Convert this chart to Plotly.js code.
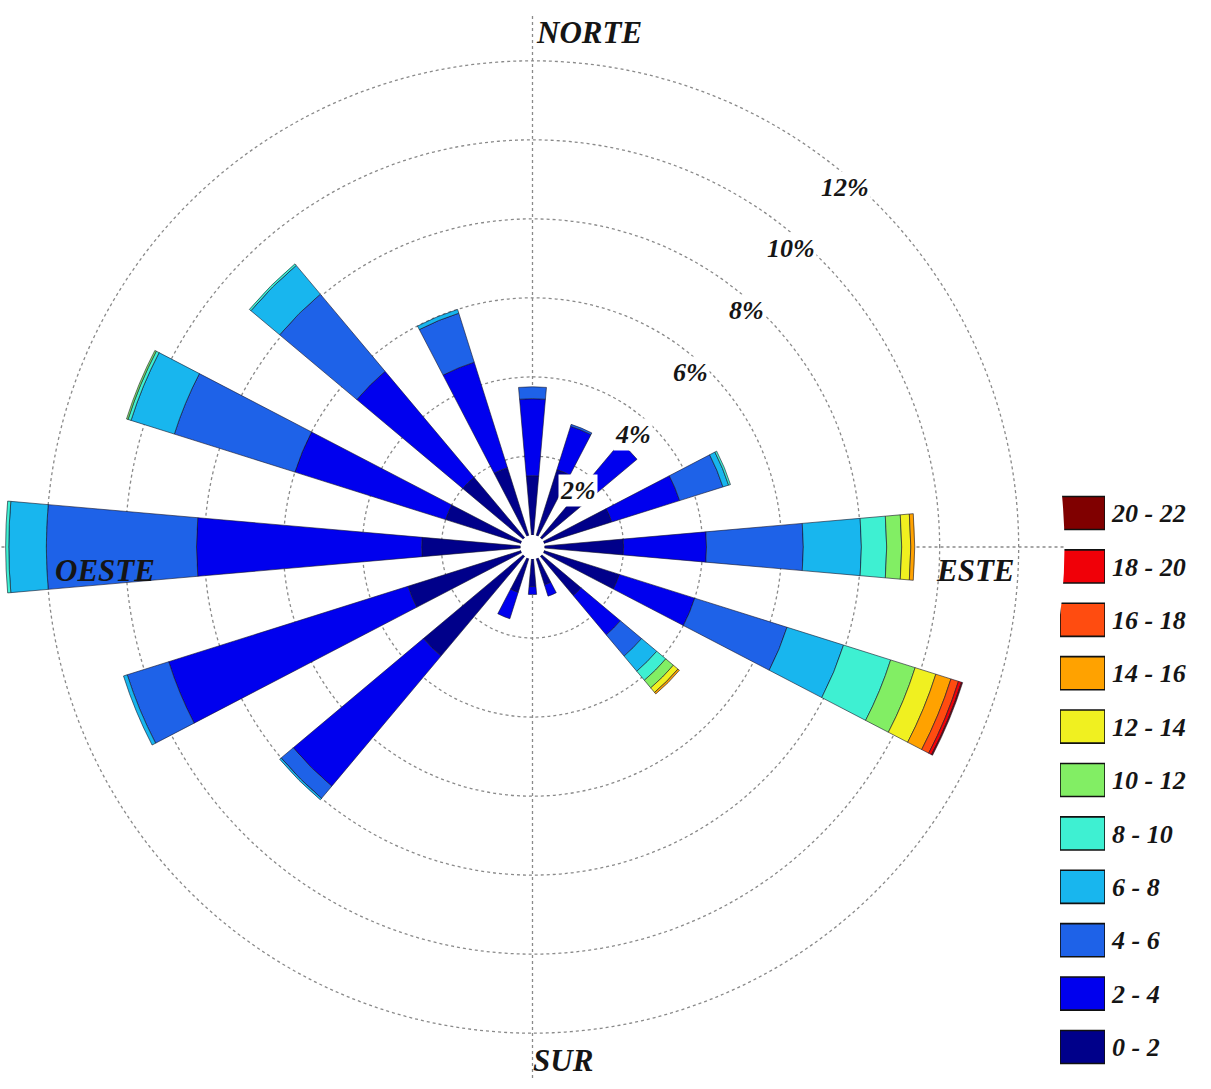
<!DOCTYPE html>
<html>
<head>
<meta charset="utf-8">
<script src="https://cdn.plot.ly/plotly-3.0.1.min.js"></script>
<style>html,body{margin:0;padding:0;background:#fff}#chart{width:1211px;height:1089px}</style>
</head>
<body>
<div id="chart"></div>
<script>
// Wind directions (compass sectors) and their bearings in degrees
const directions   = ['N','NNE','NE','ENE','E','ESE','SE','SSE','S','SSW','SW','WSW','W','WNW','NW','NNW'];
const directionDeg = [0,22.5,45,67.5,90,112.5,135,157.5,180,202.5,225,247.5,270,292.5,315,337.5];

// Speed classes (legend labels) and their colours
const speedClasses = ['0 - 2','2 - 4','4 - 6','6 - 8','8 - 10','10 - 12','12 - 14','14 - 16','16 - 18','18 - 20','20 - 22'];
const classColors  = ['#00008a','#0000ee','#1e62e8','#18b6ee','#3ef0d2','#82ee64','#f0f020','#ffa200','#ff4c10','#f00008','#800000'];

// Frequency (%) of each speed class per direction, order as `directions`
const freq_0_2   = [1.5,1.75,1.7,1.8,2.0,2.0,1.3,0.7,0.7,0.9,3.3,3.0,2.5,2.0,2.0,1.8];
const freq_2_4   = [1.95,1.15,1.45,1.8,2.1,2.0,1.3,0.3,0.2,0.7,4.3,6.35,5.7,4.0,3.5,2.8];
const freq_4_6   = [0.3,0.05,0,1.15,2.45,2.45,0.7,0,0,0,0.4,1.1,3.8,3.2,2.55,1.3];
const freq_6_8   = [0,0,0,0.15,1.47,1.5,0.5,0,0,0,0.05,0.1,0.95,1.15,0.95,0.1];
const freq_8_10  = [0,0,0,0.05,0.64,1.25,0.3,0,0,0,0,0,0.08,0.08,0.05,0];
const freq_10_12 = [0,0,0,0,0.38,0.65,0.25,0,0,0,0,0,0,0.04,0,0];
const freq_12_14 = [0,0,0,0,0.23,0.55,0.15,0,0,0,0,0,0,0,0,0];
const freq_14_16 = [0,0,0,0,0.1,0.4,0.05,0,0,0,0,0,0,0,0,0];
const freq_16_18 = [0,0,0,0,0,0.2,0,0,0,0,0,0,0,0,0,0];
const freq_18_20 = [0,0,0,0,0,0.08,0,0,0,0,0,0,0,0,0,0];
const freq_20_22 = [0,0,0,0,0,0.03,0,0,0,0,0,0,0,0,0,0];

// Ring labels and compass labels
const ringLabels    = ['2%','4%','6%','8%','10%','12%'];
const ringValues    = [2,4,6,8,10,12];
const compassLabels = ['NORTE','ESTE','SUR','OESTE'];

const freqs = [freq_0_2,freq_2_4,freq_4_6,freq_6_8,freq_8_10,freq_10_12,freq_12_14,freq_14_16,freq_16_18,freq_18_20,freq_20_22];

const W = 1211, H = 1089;
const px = (x) => x / W;
const py = (y) => 1 - y / H;

const traces = freqs.map((r, i) => ({
  type: 'barpolar',
  r: r,
  theta: directionDeg,
  name: speedClasses[i],
  width: 10,
  marker: { color: classColors[i], line: { color: 'rgba(20,20,40,0.75)', width: 0.8 } },
  showlegend: false,
  hoverinfo: 'name+r'
}));

// Legend drawn as a small categorical bar chart (one swatch per speed class)
const swatch = speedClasses.map(() => 1);
traces.push({
  type: 'bar',
  orientation: 'h',
  x: swatch,
  y: speedClasses,
  xaxis: 'x',
  yaxis: 'y',
  marker: { color: classColors, line: { color: '#111', width: 1.6 } },
  showlegend: false,
  hoverinfo: 'y'
});

const labelFont = (size) => ({ family: 'Liberation Serif, Times New Roman, serif', size: size, color: '#151515', weight: 'bold', style: 'italic' });

const ringPos = [[578,490],[633,435],[690,372],[746,311],[791,249],[845,187]];
const compassPos = [[589,32],[975,570],[563,1060],[105,570]];

const annotations = [];
ringLabels.forEach((t, i) => annotations.push({
  xref: 'paper', yref: 'paper', x: px(ringPos[i][0]), y: py(ringPos[i][1]),
  xanchor: 'center', yanchor: 'middle', showarrow: false,
  text: t, font: labelFont(26), bgcolor: '#ffffff', borderpad: 1
}));
compassLabels.forEach((t, i) => annotations.push({
  xref: 'paper', yref: 'paper', x: px(compassPos[i][0]), y: py(compassPos[i][1]),
  xanchor: 'center', yanchor: 'middle', showarrow: false,
  text: t, font: labelFont(31)
}));

const layout = {
  width: W, height: H,
  margin: { l: 0, r: 0, t: 0, b: 0 },
  paper_bgcolor: '#ffffff',
  plot_bgcolor: '#ffffff',
  showlegend: false,
  bargap: 0.38,
  polar: {
    domain: { x: [0.5 / W, 1064.5 / W], y: [10 / H, 1074 / H] },
    hole: 0.0226,
    bgcolor: '#ffffff',
    barmode: 'stack',
    radialaxis: {
      range: [0, 13.16],
      tickvals: ringValues,
      showticklabels: false,
      ticks: '',
      showline: false,
      showgrid: true,
      gridcolor: '#8a8a8a',
      gridwidth: 1.3,
      griddash: 'dot'
    },
    angularaxis: {
      rotation: 90,
      direction: 'clockwise',
      tickvals: [0, 90, 180, 270],
      showticklabels: false,
      ticks: '',
      showline: false,
      showgrid: true,
      gridcolor: '#8a8a8a',
      gridwidth: 1.3,
      griddash: 'dot'
    }
  },
  xaxis: {
    domain: [1060 / W, 1105 / W],
    range: [0, 1],
    visible: false,
    fixedrange: true
  },
  yaxis: {
    domain: [py(1073.7), py(486.3)],
    type: 'category',
    categoryorder: 'array',
    categoryarray: speedClasses,
    anchor: 'x',
    side: 'right',
    showgrid: false,
    zeroline: false,
    showline: false,
    ticks: '',
    ticklabelstandoff: 6,
    tickfont: labelFont(26),
    fixedrange: true
  },
  annotations: annotations
};

Plotly.newPlot('chart', traces, layout, { displayModeBar: false, staticPlot: true });
</script>
</body>
</html>
